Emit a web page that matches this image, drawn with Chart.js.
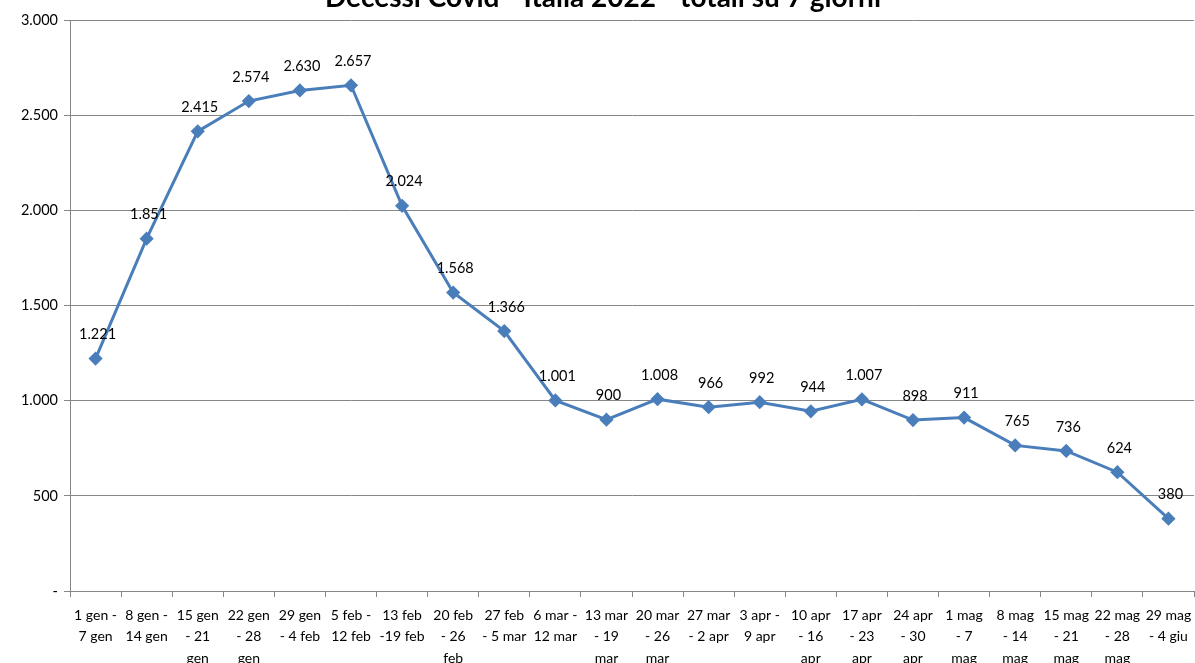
<!DOCTYPE html>
<html>
<head>
<meta charset="utf-8">
<script src="https://cdn.jsdelivr.net/npm/chart.js@4/dist/chart.umd.min.js"></script>
<style>
  html, body { margin: 0; padding: 0; background: #fff; overflow: hidden; }
  #wrap { width: 1195px; height: 663px; position: relative; }
</style>
</head>
<body>
<div id="wrap"><canvas id="chart"></canvas></div>
<script>
/* DATI */

const titolo = 'Decessi Covid - Italia 2022 - totali su 7 giorni';

const settimane = [
    ['1 gen -', '7 gen'],
    ['8 gen -', '14 gen'],
    ['15 gen', '- 21', 'gen'],
    ['22 gen', '- 28', 'gen'],
    ['29 gen', '- 4 feb'],
    ['5 feb -', '12 feb'],
    ['13 feb', '-19 feb'],
    ['20 feb', '- 26', 'feb'],
    ['27 feb', '- 5 mar'],
    ['6 mar -', '12 mar'],
    ['13 mar', '- 19', 'mar'],
    ['20 mar', '- 26', 'mar'],
    ['27 mar', '- 2 apr'],
    ['3 apr -', '9 apr'],
    ['10 apr', '- 16', 'apr'],
    ['17 apr', '- 23', 'apr'],
    ['24 apr', '- 30', 'apr'],
    ['1 mag', '- 7', 'mag'],
    ['8 mag', '- 14', 'mag'],
    ['15 mag', '- 21', 'mag'],
    ['22 mag', '- 28', 'mag'],
    ['29 mag', '- 4 giu']
];

const decessi = [1221, 1851, 2415, 2574, 2630, 2657, 2024, 1568, 1366, 1001, 900,
                 1008, 966, 992, 944, 1007, 898, 911, 765, 736, 624, 380];

const yMin = 0;
const yMax = 3000;
const yPasso = 500;

/* FORMATO */

function formatta(v){
    if (v === 0) return '-';
    return v.toString().replace(/\B(?=(\d{3})+(?!\d))/g, '.');
}

const font = 'Lato, "Open Sans", sans-serif';

/* PLUGIN: titolo + etichette */

const etichette = {
    id: 'etichette',
    afterDatasetsDraw(chart){
        const ctx = chart.ctx;
        const meta = chart.getDatasetMeta(0);
        ctx.save();
        ctx.font = '14.5px ' + font;
        ctx.fillStyle = '#000';
        ctx.textAlign = 'center';
        ctx.textBaseline = 'middle';
        meta.data.forEach((p, i) => {
            ctx.fillText(formatta(decessi[i]), p.x + 2, p.y - 24);
        });
        ctx.restore();
    },
    afterDraw(chart){
        const ctx = chart.ctx;
        ctx.save();
        ctx.font = 'bold 28px ' + font;
        ctx.fillStyle = '#000';
        ctx.textAlign = 'center';
        ctx.textBaseline = 'alphabetic';
        ctx.fillText(titolo, 603, 7);
        ctx.restore();
    }
};

/* GRAFICO */

new Chart(document.getElementById('chart'), {
    type: 'line',
    data: {
        labels: settimane,
        datasets: [{
            label: 'Decessi',
            data: decessi,
            borderColor: '#4a7ebb',
            backgroundColor: '#4a7ebb',
            borderWidth: 3,
            pointStyle: 'rectRot',
            pointRadius: 5,
            pointHoverRadius: 5,
            tension: 0
        }]
    },
    options: {
        responsive: true,
        maintainAspectRatio: false,
        animation: false,
        layout: {
            autoPadding: false,
            padding: { top: 20, right: 1, left: 0, bottom: 0 }
        },
        plugins: {
            legend: { display: false },
            title: { display: false },
            tooltip: { enabled: false }
        },
        scales: {
            x: {
                offset: true,
                grid: {
                    offset: true,
                    drawOnChartArea: false,
                    color: '#868686',
                    tickLength: 6
                },
                border: { color: '#868686', width: 1 },
                ticks: {
                    maxRotation: 0,
                    autoSkip: false,
                    color: '#000',
                    padding: 7,
                    font: { family: font, size: 14, lineHeight: 1.57 }
                },
                afterFit(scale){
                    scale.height = 72;
                    scale.paddingLeft = 0;
                    scale.paddingRight = 0;
                }
            },
            y: {
                min: yMin,
                max: yMax,
                grid: {
                    color: '#868686',
                    tickLength: 6
                },
                border: { color: '#868686', width: 1 },
                ticks: {
                    stepSize: yPasso,
                    color: '#000',
                    padding: 6,
                    font: { family: font, size: 14.5 },
                    callback: v => formatta(v)
                },
                afterFit(scale){ scale.width = 70; }
            }
        }
    },
    plugins: [etichette]
});
</script>
</body>
</html>
